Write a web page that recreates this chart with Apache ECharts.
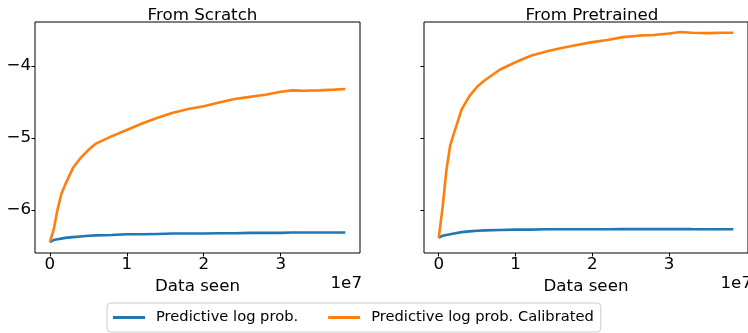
<!DOCTYPE html>
<html>
<head>
<meta charset="utf-8">
<script src="https://cdn.jsdelivr.net/npm/echarts@6/dist/echarts.min.js"></script>
<style>html,body{margin:0;padding:0;background:#fff}#c{width:748px;height:333px}</style>
</head>
<body>
<div id="c"></div>
<script>
// Data seen (units of 1e7)
var dataSeen = [0, 0.05, 0.1, 0.15, 0.2, 0.3, 0.4, 0.5, 0.6, 0.8, 1.0, 1.2, 1.4, 1.6, 1.8, 2.0, 2.2, 2.4, 2.6, 2.8, 3.0, 3.15, 3.3, 3.5, 3.7, 3.84];
var scratchLogProb = [-6.45, -6.42, -6.41, -6.40, -6.39, -6.38, -6.37, -6.36, -6.355, -6.35, -6.34, -6.34, -6.335, -6.33, -6.33, -6.33, -6.325, -6.325, -6.32, -6.32, -6.32, -6.315, -6.315, -6.315, -6.315, -6.315];
var scratchCalibrated = [-6.45, -6.28, -6.0, -5.78, -5.65, -5.42, -5.28, -5.17, -5.08, -4.98, -4.89, -4.80, -4.72, -4.65, -4.60, -4.56, -4.51, -4.46, -4.43, -4.40, -4.36, -4.34, -4.345, -4.34, -4.33, -4.32];
var pretrainedLogProb = [-6.39, -6.36, -6.35, -6.34, -6.33, -6.31, -6.30, -6.29, -6.285, -6.28, -6.275, -6.275, -6.27, -6.27, -6.27, -6.27, -6.27, -6.268, -6.268, -6.268, -6.268, -6.266, -6.268, -6.27, -6.27, -6.27];
var pretrainedCalibrated = [-6.39, -5.97, -5.45, -5.10, -4.93, -4.60, -4.42, -4.29, -4.20, -4.05, -3.95, -3.86, -3.80, -3.75, -3.71, -3.67, -3.64, -3.60, -3.58, -3.57, -3.55, -3.53, -3.54, -3.545, -3.54, -3.54];
var xTicks = [0, 1, 2, 3];
var yTicks = [-6, -5, -4];
var titles = ['From Scratch', 'From Pretrained'];
var seriesNames = ['Predictive log prob.', 'Predictive log prob. Calibrated'];
var colors = ['#1f77b4', '#ff7f0e'];

function pairs(xs, ys) { return xs.map(function (x, i) { return [x * 1e7, ys[i]]; }); }

var FS = 16.7;
var FONT = 'DejaVu Sans';
var grids = [
  {left: 35, top: 22, width: 325, height: 231},
  {left: 424, top: 22, width: 326, height: 231}
];

function xAxis(i) {
  return {
    type: 'value', gridIndex: i, min: -0.192e7, max: 4.03e7,
    name: 'Data seen', nameLocation: 'middle', nameGap: 14,
    nameTextStyle: {fontSize: FS, fontFamily: FONT, color: '#000'},
    axisLine: {show: false, onZero: false},
    axisTick: {show: true, length: 3.5, inside: false, customValues: xTicks.map(function (v) { return v * 1e7; }), lineStyle: {color: '#000', width: 1}},
    axisLabel: {show: true, margin: 3, fontSize: FS, fontFamily: FONT, color: '#000', customValues: xTicks.map(function (v) { return v * 1e7; }), formatter: function (v) { return String(Math.round(v / 1e7)); }},
    splitLine: {show: false}
  };
}
function yAxis(i) {
  return {
    type: 'value', gridIndex: i, min: -6.6, max: -3.39,
    axisLine: {show: false, onZero: false},
    axisTick: {show: true, length: 3.5, customValues: yTicks, lineStyle: {color: '#000', width: 1}},
    axisLabel: {show: i === 0, margin: 4, fontSize: FS, fontFamily: FONT, color: '#000', customValues: yTicks, formatter: function (v) { return String(v).replace('-', '\u2212'); }},
    splitLine: {show: false}
  };
}

var series = [];
[[scratchLogProb, scratchCalibrated], [pretrainedLogProb, pretrainedCalibrated]].forEach(function (pair, gi) {
  pair.forEach(function (ys, si) {
    series.push({
      name: seriesNames[si], type: 'line', xAxisIndex: gi, yAxisIndex: gi,
      data: pairs(dataSeen, ys), symbol: 'none', showSymbol: false, smooth: false,
      lineStyle: {color: colors[si], width: 2.6}, itemStyle: {color: colors[si]},
      animation: false, z: si + 2
    });
  });
});

var chart = echarts.init(document.getElementById('c'), null, {renderer: 'canvas'});
chart.setOption({
  animation: false,
  backgroundColor: '#fff',
  title: titles.map(function (t, i) {
    return {text: t, left: grids[i].left + grids[i].width / 2, top: 2, textAlign: 'center',
      textStyle: {fontSize: FS, fontWeight: 'normal', fontFamily: FONT, color: '#000'}};
  }),
  grid: grids.map(function (g) {
    return {left: g.left, top: g.top, width: g.width, height: g.height, show: true, borderColor: '#000', borderWidth: 1, backgroundColor: 'transparent', containLabel: false};
  }),
  xAxis: [xAxis(0), xAxis(1)],
  yAxis: [yAxis(0), yAxis(1)],
  legend: {
    data: seriesNames, left: 107, top: 303, orient: 'horizontal',
    icon: 'rect', itemWidth: 32, itemHeight: 3, itemGap: 30,
    padding: [7, 7, 7, 6],
    borderColor: '#cccccc', borderWidth: 1, borderRadius: 4, backgroundColor: '#fff',
    textStyle: {fontSize: 14.7, fontFamily: FONT, color: '#000', padding: [0, 0, 0, 6]}
  },
  graphic: grids.map(function (g) {
    return {type: 'text', right: 748 - (g.left + g.width) - 2, top: 275,
      style: {text: '1e7', fontSize: FS, fontFamily: FONT, fill: '#000', textAlign: 'right'}};
  }),
  series: series
});
</script>
</body>
</html>
